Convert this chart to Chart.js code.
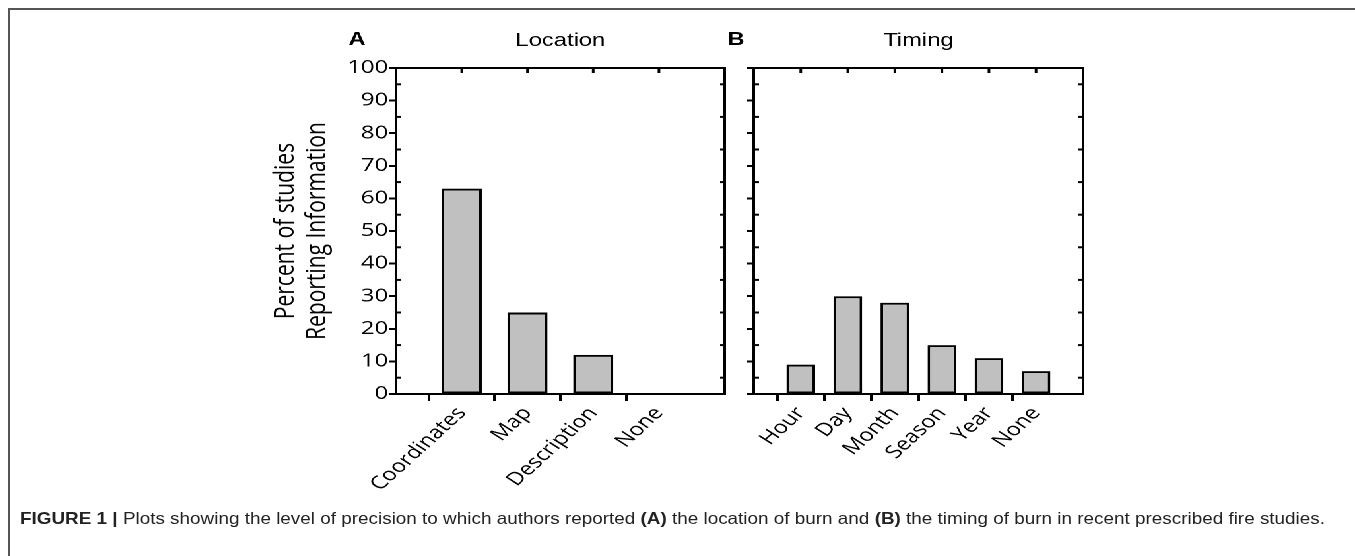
<!DOCTYPE html>
<html>
<head>
<meta charset="utf-8">
<script src="https://cdn.jsdelivr.net/npm/chart.js@4.4.1/dist/chart.umd.min.js"></script>
<style>
  html, body { margin: 0; padding: 0; background: #fff; }
  body { width: 1355px; height: 556px; position: relative; overflow: hidden; }
  #frame { position: absolute; left: 8px; top: 8px; width: 1400px; height: 600px;
           border-top: 2px solid #555; border-left: 2px solid #555; }
  /* the figure is stretched horizontally in the source */
  #stretch { position: absolute; left: 0; top: 0; width: 840px; height: 556px;
             transform: scaleX(1.32); transform-origin: 0 0; }
  #stretch canvas { position: absolute; top: 0; }
  #caption { position: absolute; left: 20px; top: 509px; font: 16.5px "Liberation Sans", Arial, sans-serif;
             color: #222; white-space: nowrap; transform-origin: 0 0; display: inline-block; }
</style>
</head>
<body>
<div id="frame"></div>
<div id="stretch">
  <canvas id="locationChart" width="380" height="510" style="left:180px"></canvas>
  <canvas id="timingChart" width="290" height="510" style="left:540px"></canvas>
</div>
<div id="caption"><b>FIGURE 1 |</b> Plots showing the level of precision to which authors reported <b>(A)</b> the location of burn and <b>(B)</b> the timing of burn in recent prescribed fire studies.</div>

<script>
// data
const locationLabels = ['Coordinates', 'Map', 'Description', 'None'];
const locationValues = [63, 25, 12, 0];
const timingLabels = ['Hour', 'Day', 'Month', 'Season', 'Year', 'None'];
const timingValues = [9, 30, 28, 15, 11, 7];
const yMin = 0, yMax = 100, yStep = 10;

const tickFont = { family: '"Open Sans", sans-serif', size: 18 };

// box around the plot, inward ticks, panel title and letter
const panelFrame = {
  id: 'panelFrame',
  afterDraw(chart, args, opts) {
    const { ctx, chartArea: a, scales: { x, y } } = chart;
    const line = (x1, y1, x2, y2) => { ctx.beginPath(); ctx.moveTo(x1, y1); ctx.lineTo(x2, y2); ctx.stroke(); };
    ctx.save();
    ctx.strokeStyle = '#000';
    ctx.lineWidth = 2;
    ctx.strokeRect(a.left, a.top, a.right - a.left, a.bottom - a.top);
    chart.data.labels.forEach((lab, i) => {
      if (!lab) return;
      const px = x.getPixelForTick(i);
      line(px, a.top, px, a.top + 5);
    });
    for (let v = yMin + yStep / 2; v < yMax; v += yStep) {
      const py = y.getPixelForValue(v);
      line(a.left, py, a.left + 4, py);
      line(a.right - 3.5, py, a.right, py);
    }
    ctx.fillStyle = '#000';
    ctx.textBaseline = 'middle';
    ctx.font = '18px "Liberation Sans", Arial, sans-serif';
    ctx.textAlign = 'center';
    ctx.fillText(opts.title, (a.left + a.right) / 2, 41);
    ctx.font = 'bold 18px "Liberation Sans", Arial, sans-serif';
    ctx.textAlign = 'left';
    ctx.fillText(opts.letter, a.left + opts.letterDx, 40);
    ctx.restore();
  }
};

function makePanel(id, labels, values, cfg) {
  const padded = ['', ...labels, ''];
  const data = [null, ...values, null];
  new Chart(document.getElementById(id), {
    type: 'bar',
    data: {
      labels: padded,
      datasets: [{
        data,
        backgroundColor: '#c0c0c0',
        borderColor: '#000',
        borderWidth: 2,
        borderSkipped: false,
        categoryPercentage: 1,
        barPercentage: 0.61,
      }],
    },
    options: {
      responsive: false,
      animation: false,
      devicePixelRatio: 2,
      layout: { padding: { top: 68, right: cfg.padRight, left: 0, bottom: 0 } },
      plugins: {
        legend: { display: false },
        tooltip: { enabled: false },
        panelFrame: { title: cfg.title, letter: cfg.letter, letterDx: cfg.letterDx },
      },
      scales: {
        x: {
          offset: false,
          afterFit: s => { s.height = 116; s.paddingLeft = 0; s.paddingRight = 0; },
          border: { display: true, color: '#000', width: 2 },
          grid: {
            drawOnChartArea: false,
            tickLength: 7,
            tickWidth: 2,
            tickColor: c => (c.tick && c.tick.label ? '#000' : 'rgba(0,0,0,0)'),
          },
          ticks: { color: '#000', font: tickFont, autoSkip: false, minRotation: 50, maxRotation: 50, padding: 2 },
        },
        y: {
          min: yMin,
          max: yMax,
          afterFit: s => { s.width = cfg.yWidth; },
          border: { display: true, color: '#000', width: 2 },
          grid: { drawOnChartArea: false, tickLength: 5, tickWidth: 2, tickColor: '#000' },
          ticks: { stepSize: yStep, display: cfg.showY, color: '#000', font: tickFont, padding: 1 },
          title: {
            display: cfg.showY,
            text: ['Percent of studies', 'Reporting Information'],
            color: '#000',
            font: { family: '"Open Sans", sans-serif', size: 21, lineHeight: 1.15 },
            padding: { top: 24.5, bottom: 0 },
          },
        },
      },
    },
    plugins: [panelFrame],
  });
}

makePanel('locationChart', locationLabels, locationValues,
  { title: 'Location', letter: 'A', letterDx: -36, padRight: 11, yWidth: 120, showY: true });
makePanel('timingChart', timingLabels, timingValues,
  { title: 'Timing', letter: 'B', letterDx: -20, padRight: 9.5, yWidth: 31, showY: false });

// fit the caption to the width it has in the figure
const cap = document.getElementById('caption');
cap.style.transform = `scaleX(${1305 / cap.getBoundingClientRect().width})`;
</script>
</body>
</html>
